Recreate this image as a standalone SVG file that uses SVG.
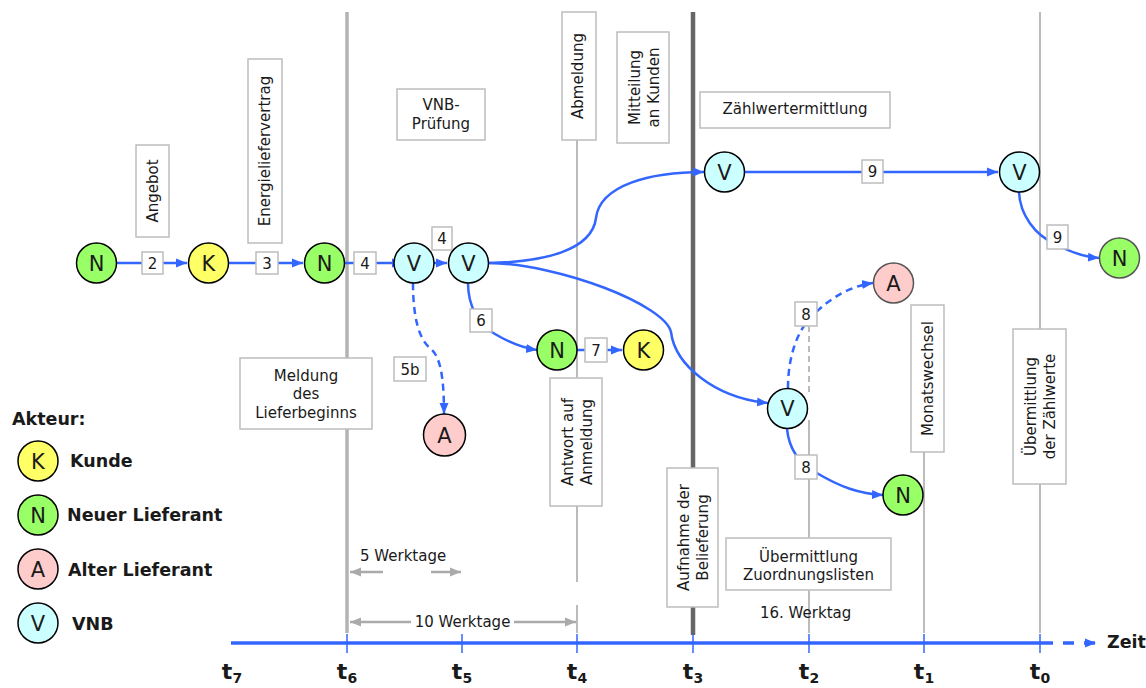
<svg xmlns="http://www.w3.org/2000/svg" width="1146" height="688" viewBox="0 0 1146 688">
<style>
text{font-family:"DejaVu Sans",Verdana,sans-serif;fill:#1a1a1a}
.lbl{font-size:15px}
.mid{text-anchor:middle}
.box{fill:#fff;stroke:#bdbdbd;stroke-width:1.5}
.nbox{fill:#fff;stroke:#bdbdbd;stroke-width:1.5}
.num{font-size:15px;text-anchor:middle}
.conn{fill:none;stroke:#3366ff;stroke-width:2.5;marker-end:url(#ah)}
.dash{stroke-dasharray:7,5}
.vl{stroke:#bbbbbb;stroke-width:2;fill:none}
.gar{stroke:#aaaaaa;stroke-width:2.5;fill:none}
.node circle{stroke:#000;stroke-width:1.5}
.node text{font-size:21px;text-anchor:middle}
.leg{font-size:17.5px;font-weight:bold}
.tl{font-size:22px;font-weight:bold;text-anchor:middle}
.sub{font-size:14px}
.tick{stroke:#3366ff;stroke-width:1.5}
.g{fill:#99ff66}.y{fill:#ffff66}.p{fill:#ffcccc}.c{fill:#ccffff}
</style>
<defs>
<marker id="ah" markerUnits="userSpaceOnUse" markerWidth="12" markerHeight="10" refX="11" refY="5" orient="auto"><path d="M0,0.5 L11,5 L0,9.5 z" fill="#3366ff"/></marker>
<marker id="ga" markerUnits="userSpaceOnUse" markerWidth="12" markerHeight="10" refX="11" refY="5" orient="auto-start-reverse"><path d="M0,0.5 L11,5 L0,9.5 z" fill="#aaaaaa"/></marker>
</defs>

<g id="timelines">
<line x1="347" y1="12" x2="347" y2="633" stroke="#b3b3b3" stroke-width="3.5"/>
<line x1="577" y1="140" x2="577" y2="582" class="vl" stroke-width="2.5"/>
<line x1="577" y1="605" x2="577" y2="633" class="vl" stroke-width="2.5"/>
<line x1="693" y1="12" x2="693" y2="635" stroke="#666666" stroke-width="4.5"/>
<line x1="809" y1="326" x2="809" y2="392" class="vl" stroke-dasharray="6,4"/>
<line x1="809" y1="420" x2="809" y2="633" class="vl"/>
<line x1="924" y1="452" x2="924" y2="633" class="vl"/>
<line x1="1040" y1="12" x2="1040" y2="633" class="vl"/>
</g>

<g id="axis">
<line x1="231" y1="643" x2="1042" y2="643" stroke="#3366ff" stroke-width="3.5"/>
<line x1="1042" y1="643" x2="1096" y2="643" stroke="#3366ff" stroke-width="3.5" stroke-dasharray="11,10" marker-end="url(#ah)"/>
<line class="tick" x1="347" y1="634" x2="347" y2="653"/>
<line class="tick" x1="462" y1="634" x2="462" y2="653"/>
<line class="tick" x1="577" y1="634" x2="577" y2="653"/>
<line class="tick" x1="693" y1="634" x2="693" y2="653"/>
<line class="tick" x1="809" y1="634" x2="809" y2="653"/>
<line class="tick" x1="924" y1="634" x2="924" y2="653"/>
<line class="tick" x1="1040" y1="634" x2="1040" y2="653"/>
<text x="1107" y="648" style="font-size:17.5px;font-weight:bold">Zeit</text>
<text class="tl" x="232" y="679">t<tspan class="sub" dy="4">7</tspan></text>
<text class="tl" x="347" y="679">t<tspan class="sub" dy="4">6</tspan></text>
<text class="tl" x="462" y="679">t<tspan class="sub" dy="4">5</tspan></text>
<text class="tl" x="577" y="679">t<tspan class="sub" dy="4">4</tspan></text>
<text class="tl" x="693" y="679">t<tspan class="sub" dy="4">3</tspan></text>
<text class="tl" x="809" y="679">t<tspan class="sub" dy="4">2</tspan></text>
<text class="tl" x="924" y="679">t<tspan class="sub" dy="4">1</tspan></text>
<text class="tl" x="1040" y="679">t<tspan class="sub" dy="4">0</tspan></text>
</g>

<g id="durations">
<text class="lbl" x="360" y="561">5 Werktage</text>
<line class="gar" x1="383" y1="572" x2="350" y2="572" marker-end="url(#ga)"/>
<line class="gar" x1="431" y1="572" x2="461" y2="572" marker-end="url(#ga)"/>
<line class="gar" x1="350" y1="622" x2="576" y2="622" marker-start="url(#ga)" marker-end="url(#ga)"/>
<rect x="411" y="612" width="103" height="16" fill="#fff"/>
<text class="lbl mid" x="462.5" y="627">10 Werktage</text>
<text class="lbl" x="760" y="618">16. Werktag</text>
</g>

<g id="phase-labels">
<g id="lbl-angebot"><rect class="box" x="136" y="145" width="33" height="92"/><text class="lbl mid" transform="translate(152.5,191) rotate(-90)" y="5">Angebot</text></g>
<g id="lbl-vertrag"><rect class="box" x="248" y="59" width="34" height="184"/><text class="lbl mid" transform="translate(265,151) rotate(-90)" y="5">Energieliefervertrag</text></g>
<g id="lbl-vnb"><rect class="box" x="397" y="89" width="88" height="51"/><text class="lbl mid" x="441" y="110">VNB-</text><text class="lbl mid" x="441" y="129">Prüfung</text></g>
<g id="lbl-abmeldung"><rect class="box" x="562" y="12" width="34" height="128"/><text class="lbl mid" transform="translate(579,76) rotate(-90)" y="4">Abmeldung</text></g>
<g id="lbl-mitteilung"><rect class="box" x="617" y="32" width="52" height="111"/><text class="lbl mid" transform="translate(643,87.5) rotate(-90)"><tspan x="0" y="-3">Mitteilung</tspan><tspan x="0" y="16">an Kunden</tspan></text></g>
<g id="lbl-zaehlwert"><rect class="box" x="700" y="92" width="190" height="36"/><text class="lbl mid" x="795" y="114">Zählwertermittlung</text></g>
<g id="lbl-meldung"><rect class="box" x="240" y="358" width="132" height="71"/><text class="lbl mid" x="306" y="381">Meldung</text><text class="lbl mid" x="306" y="399">des</text><text class="lbl mid" x="306" y="418">Lieferbeginns</text></g>
<g id="lbl-antwort"><rect class="box" x="550" y="378" width="52" height="128"/><text class="lbl mid" transform="translate(576,442) rotate(-90)"><tspan x="0" y="-3">Antwort auf</tspan><tspan x="0" y="16">Anmeldung</tspan></text></g>
<g id="lbl-aufnahme"><rect class="box" x="667" y="468" width="51" height="139"/><text class="lbl mid" transform="translate(692.5,537.5) rotate(-90)"><tspan x="0" y="-4">Aufnahme der</tspan><tspan x="0" y="15">Belieferung</tspan></text></g>
<g id="lbl-zuordnung"><rect class="box" x="726" y="538" width="165" height="52"/><text class="lbl mid" x="808.5" y="562">Übermittlung</text><text class="lbl mid" x="808.5" y="580">Zuordnungslisten</text></g>
<g id="lbl-monat"><rect class="box" x="911" y="305" width="33" height="147"/><text class="lbl mid" transform="translate(927.5,378.5) rotate(-90)" y="5">Monatswechsel</text></g>
<g id="lbl-zaehlwerte"><rect class="box" x="1013" y="329" width="53" height="155"/><text class="lbl mid" transform="translate(1039.5,406.5) rotate(-90)"><tspan x="0" y="-4">Übermittlung</tspan><tspan x="0" y="15">der Zählwerte</tspan></text></g>
</g>

<g id="connectors">
<line class="conn" x1="116" y1="263" x2="187" y2="263"/>
<line class="conn" x1="229" y1="263" x2="303" y2="263"/>
<line class="conn" x1="345" y1="263" x2="403" y2="263"/>
<line class="conn" x1="434" y1="263" x2="447" y2="263"/>
<path class="conn" d="M489,263 C545,262 592,250 596,218 C600,185 650,172 704,172"/>
<path class="conn" d="M489,263 C560,264 665,305 671,332 C675,365 715,398 768,403"/>
<path class="conn" d="M468,283 C468,305 478,325 495,334 C510,343 522,348 537,350"/>
<path class="conn dash" d="M413,283 C413,320 420,340 430,348 C440,356 444,375 444,414"/>
<line class="conn" x1="577" y1="350" x2="622" y2="350"/>
<line class="conn" x1="745" y1="172" x2="998" y2="172"/>
<path class="conn" d="M1019,192 C1020,215 1035,235 1055,244 C1070,252 1085,257 1099,258"/>
<path class="conn dash" d="M788,388 C788,355 798,330 812,316 C830,298 850,286 873,283"/>
<path class="conn" d="M787,429 C789,448 797,462 815,472 C840,487 860,494 883,495"/>
</g>

<g id="connector-labels">
<rect class="nbox" x="142" y="252" width="21" height="22"/><text class="num" x="152.5" y="268.5">2</text>
<rect class="nbox" x="256" y="252" width="22" height="22"/><text class="num" x="267" y="268.5">3</text>
<rect class="nbox" x="354" y="252" width="22" height="22"/><text class="num" x="365" y="268.5">4</text>
<rect class="nbox" x="432" y="227" width="20" height="23"/><text class="num" x="442" y="244">4</text>
<rect class="nbox" x="470" y="309" width="22" height="23"/><text class="num" x="481" y="326">6</text>
<rect class="nbox" x="394" y="357" width="32" height="24"/><text class="num" x="410" y="374.5">5b</text>
<rect class="nbox" x="585" y="338" width="22" height="24"/><text class="num" x="596" y="355.5">7</text>
<rect class="nbox" x="795" y="302" width="22" height="24"/><text class="num" x="806" y="319.5">8</text>
<rect class="nbox" x="795" y="455" width="22" height="24"/><text class="num" x="806" y="472.5">8</text>
<rect class="nbox" x="862" y="160" width="21" height="23"/><text class="num" x="872.5" y="177">9</text>
<rect class="nbox" x="1047" y="225" width="21" height="24"/><text class="num" x="1057.5" y="242.5">9</text>
</g>

<g id="nodes">
<g id="n1" class="node"><circle class="g" cx="96.5" cy="263" r="20"/><text x="96.5" y="270.5">N</text></g>
<g id="k1" class="node"><circle class="y" cx="208.5" cy="263" r="20"/><text x="208.5" y="270.5">K</text></g>
<g id="n2" class="node"><circle class="g" cx="324.5" cy="263" r="20"/><text x="324.5" y="270.5">N</text></g>
<g id="v1" class="node"><circle class="c" cx="414" cy="263" r="20"/><text x="414" y="270.5">V</text></g>
<g id="v2" class="node"><circle class="c" cx="468.5" cy="263" r="20"/><text x="468.5" y="270.5">V</text></g>
<g id="a1" class="node"><circle class="p" cx="444.5" cy="435" r="21"/><text x="444.5" y="442.5">A</text></g>
<g id="n3" class="node"><circle class="g" cx="557" cy="350" r="20"/><text x="557" y="357.5">N</text></g>
<g id="k2" class="node"><circle class="y" cx="643.5" cy="350" r="20"/><text x="643.5" y="357.5">K</text></g>
<g id="v3" class="node"><circle class="c" cx="724.5" cy="172" r="20"/><text x="724.5" y="179.5">V</text></g>
<g id="v5" class="node"><circle class="c" cx="1019.5" cy="172" r="20"/><text x="1019.5" y="179.5">V</text></g>
<g id="n4" class="node"><circle class="g" cx="1119.5" cy="258" r="20" style="stroke:#555"/><text x="1119.5" y="265.5">N</text></g>
<g id="a2" class="node"><circle class="p" cx="893.5" cy="283" r="20" style="stroke:#555"/><text x="893.5" y="290.5">A</text></g>
<g id="v4" class="node"><circle class="c" cx="787.5" cy="408.5" r="20"/><text x="787.5" y="416">V</text></g>
<g id="n5" class="node"><circle class="g" cx="903" cy="495" r="20"/><text x="903" y="502.5">N</text></g>
</g>

<g id="legend">
<text class="leg" x="12" y="425">Akteur:</text>
<g id="leg-k" class="node"><circle class="y" cx="38" cy="461" r="20"/><text x="38" y="468.5">K</text></g>
<text class="leg" x="70" y="467">Kunde</text>
<g id="leg-n" class="node"><circle class="g" cx="38" cy="515" r="20"/><text x="38" y="522.5">N</text></g>
<text class="leg" x="67" y="521">Neuer Lieferant</text>
<g id="leg-a" class="node"><circle class="p" cx="38" cy="569" r="20"/><text x="38" y="576.5">A</text></g>
<text class="leg" x="68" y="576">Alter Lieferant</text>
<g id="leg-v" class="node"><circle class="c" cx="38" cy="623" r="20"/><text x="38" y="630.5">V</text></g>
<text class="leg" x="72" y="630">VNB</text>
</g>
</svg>
